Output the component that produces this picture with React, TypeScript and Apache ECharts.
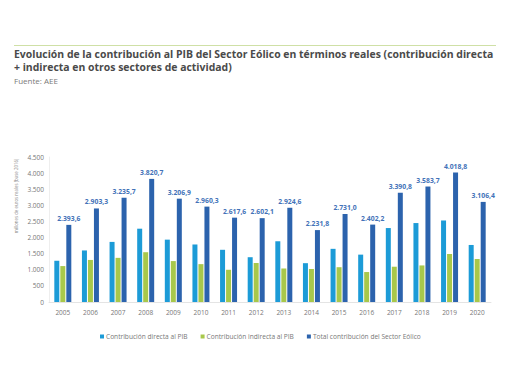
import React, { useEffect, useRef } from "react";
import * as echarts from "echarts";

const years = ["2005","2006","2007","2008","2009","2010","2011","2012","2013","2014","2015","2016","2017","2018","2019","2020"];
const directa = [1280, 1600, 1865, 2275, 1935, 1785, 1620, 1390, 1885, 1205, 1650, 1470, 2295, 2450, 2530, 1770];
const indirecta = [1115, 1305, 1370, 1545, 1270, 1175, 1000, 1210, 1040, 1025, 1080, 930, 1095, 1135, 1490, 1335];
const total = [2393.6, 2903.3, 3235.7, 3820.7, 3206.9, 2960.3, 2617.6, 2602.1, 2924.6, 2231.8, 2731.0, 2402.2, 3390.8, 3583.7, 4018.8, 3106.4];
const seriesNames = ["Contribución directa al PIB", "Contribución indirecta al PIB", "Total contribución del Sector Eólico"];

const fmtThousands = (v: number) => {
  const s = Math.round(v).toString();
  return s.replace(/\B(?=(\d{3})+(?!\d))/g, ".");
};
const fmtDec = (v: number) => {
  const [i, d] = v.toFixed(1).split(".");
  return i.replace(/\B(?=(\d{3})+(?!\d))/g, ".") + "," + d;
};

const FONT = "Open Sans";

export default function App() {
  const ref = useRef<HTMLDivElement>(null);
  useEffect(() => {
    const chart = echarts.init(ref.current!, null, { renderer: "svg" });
    chart.setOption({
      animation: false,
      backgroundColor: "#ffffff",
      textStyle: { fontFamily: FONT },
      graphic: [
        { type: "line", shape: { x1: 14, y1: 45.5, x2: 496, y2: 45.5 }, style: { stroke: "#cfe0a6", lineWidth: 1 } },
        { type: "text", left: 14, top: 49, style: { text: "Evolución de la contribución al PIB del Sector Eólico en términos reales (contribución directa", fill: "#4a4a4a", font: `bold 10.45px ${FONT}` } },
        { type: "text", left: 14, top: 62, style: { text: "+ indirecta en otros sectores de actividad)", fill: "#4a4a4a", font: `bold 10.45px ${FONT}` } },
        { type: "text", left: 14, top: 76, style: { text: "Fuente: AEE", fill: "#7a7a7a", font: `8px ${FONT}` } },
        {
          type: "text", x: 16, y: 196, rotation: Math.PI / 2,
          style: { text: "millones de euros reales (base 2016)", fill: "#888", font: `4.4px ${FONT}`, align: "center", verticalAlign: "middle" },
        },
      ],
      legend: {
        left: 95,
        top: 328,
        icon: "rect",
        itemWidth: 4,
        itemHeight: 4,
        itemGap: 13,
        textStyle: { fontSize: 6.6, color: "#777", padding: [0, 0, 0, -3] },
        data: seriesNames,
      },
      grid: { left: 49, right: 19, top: 157, bottom: 80 },
      xAxis: {
        type: "category",
        data: years,
        axisLine: { show: true, lineStyle: { color: "#e4e4e4" } },
        axisTick: { show: false },
        axisLabel: { fontSize: 6.5, color: "#777", margin: 7 },
      },
      yAxis: {
        type: "value",
        min: 0,
        max: 4500,
        interval: 500,
        axisLine: { show: true, lineStyle: { color: "#eeeeee" } },
        splitLine: { show: false },
        axisTick: { show: false },
        axisLabel: { fontSize: 6.5, color: "#777", margin: 5, formatter: (v: number) => fmtThousands(v) },
      },
      series: [
        { name: seriesNames[0], type: "bar", data: directa, barWidth: 5, barGap: "20%", itemStyle: { color: "#1c9bd7" } },
        { name: seriesNames[1], type: "bar", data: indirecta, barWidth: 5, barGap: "20%", itemStyle: { color: "#a8c84b" } },
        {
          name: seriesNames[2], type: "bar", data: total, barWidth: 5, barGap: "20%", itemStyle: { color: "#2c63ad" },
          label: { show: true, position: "top", distance: 3, fontSize: 6.8, fontWeight: "bold", color: "#4272b8", formatter: (p: any) => fmtDec(p.value) },
        },
      ],
    });
    return () => chart.dispose();
  }, []);
  return <div ref={ref} style={{ position: "fixed", left: 0, top: 0, width: 510, height: 382 }} />;
}
